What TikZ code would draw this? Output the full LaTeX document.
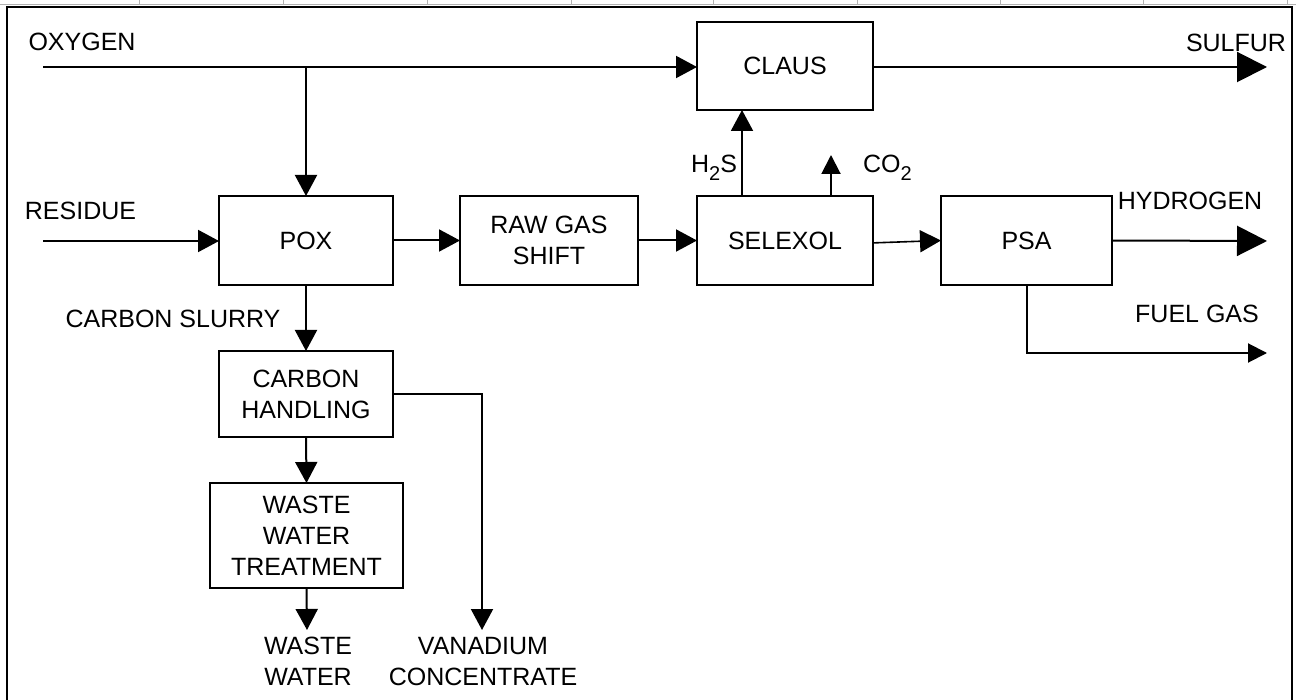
\documentclass[tikz,border=0pt]{standalone}
\usepackage{fontspec}
\setmainfont{Liberation Sans}
\usetikzlibrary{arrows.meta}
\begin{document}
\begin{tikzpicture}[x=0.5pt,y=-0.5pt,
  every node/.style={font=\fontsize{12.5pt}{15.5pt}\selectfont, inner sep=0pt, outer sep=0pt},
  box/.style={draw, line width=1.2pt, align=center},
  flow/.style={line width=1pt, -{Triangle[length=10.5pt,width=11pt]}},
  smallflow/.style={line width=1pt, -{Triangle[length=9.5pt,width=9.5pt]}},
  bigflow/.style={line width=1pt, -{Triangle[length=15pt,width=15pt]}},
  lbl/.style={align=center},
  frame/.style={line width=1pt}
]
\useasboundingbox (0,0) rectangle (1296,700);
% frame
\draw[gray!60, line width=0.5pt] (0,5) -- (1296,5);
\foreach \t in {139,283,427,571,713,857,1000,1143,1287}
  \draw[gray!60, line width=0.5pt] (\t,0) -- (\t,5);
\draw[frame] (7,700) -- (7,7) -- (1292,7) -- (1292,700);

% boxes
\node[box, minimum width=87pt, minimum height=44.5pt] (pox) at (306,240.5) {POX};
\node[box, minimum width=89pt, minimum height=44.5pt] (raw) at (549,240.5) {RAW GAS\\SHIFT};
\node[box, minimum width=88pt, minimum height=44.5pt] (sel) at (785,240.5) {SELEXOL};
\node[box, minimum width=88pt, minimum height=44pt] (claus) at (785,66) {CLAUS};
\node[box, minimum width=85.5pt, minimum height=44.5pt] (psa) at (1026.5,240.5) {PSA};
\node[box, minimum width=87pt, minimum height=43pt] (ch) at (306,394) {CARBON\\HANDLING};
\node[box, minimum width=96.5pt, minimum height=52.5pt] (wwt) at (306.5,535.5) {WASTE\\WATER\\TREATMENT};

% labels
\node[lbl] (oxl) at (82,42) {OXYGEN};
\node[lbl] (resl) at (80.5,210.5) {RESIDUE};
\node[lbl] (sull) at (1236,42.5) {SULFUR};
\node[lbl, anchor=base] (h2sl) at (714,173) {H\raisebox{-4pt}{\fontsize{10pt}{10pt}\selectfont 2}S};
\node[lbl, anchor=base] (co2l) at (887.5,173) {CO\raisebox{-4pt}{\fontsize{10pt}{10pt}\selectfont 2}};
\node[lbl] (h2l) at (1190,201) {HYDROGEN};
\node[lbl] (fgl) at (1197,314) {FUEL GAS};
\node[lbl] (csl) at (173,318.5) {CARBON SLURRY};
\node[lbl] (wwl) at (308,661.5) {WASTE\\WATER};
\node[lbl] (vcl) at (483,662) {VANADIUM\\CONCENTRATE};

% free ends
\coordinate (ox0) at (43,67);
\coordinate (res0) at (43,241);
\coordinate (sulend) at (1267,67);
\coordinate (h2end) at (1267,241);
\coordinate (fuelend) at (1267,353);
\coordinate (co2end) at (831,155);
\coordinate (vanend) at (482,630);
\coordinate (wwend) at (307,630);

% connectors
\draw[flow] (ox0) -- (ox0 -| claus.west);
\draw[flow] (ox0 -| pox.north) -- (pox.north);
\draw[flow] (res0) -- (res0 -| pox.west);
\draw[flow] (pox.east) -- (raw.west);
\draw[flow] (raw.east) -- (sel.west);
\draw[flow] ([xshift=22.5pt]sel.north west) -- ([xshift=22.5pt]claus.south west);
\draw[smallflow] ([xshift=67pt]sel.north west) -- (co2end);
\draw[flow, line width=0.8pt] ([yshift=-1.2pt]sel.east) -- (psa.west);
\draw[bigflow] (claus.east |- ox0) -- (sulend);
\draw[bigflow] (psa.east) -- (h2end);
\draw[smallflow] (psa.south) |- (fuelend);
\draw[flow] (pox.south) -- (ch.north);
\draw[flow] (ch.east) -| (vanend);
\draw[flow] (ch.south) -- (wwt.north);
\draw[flow] (wwt.south) -- (wwend);
\end{tikzpicture}
\end{document}
